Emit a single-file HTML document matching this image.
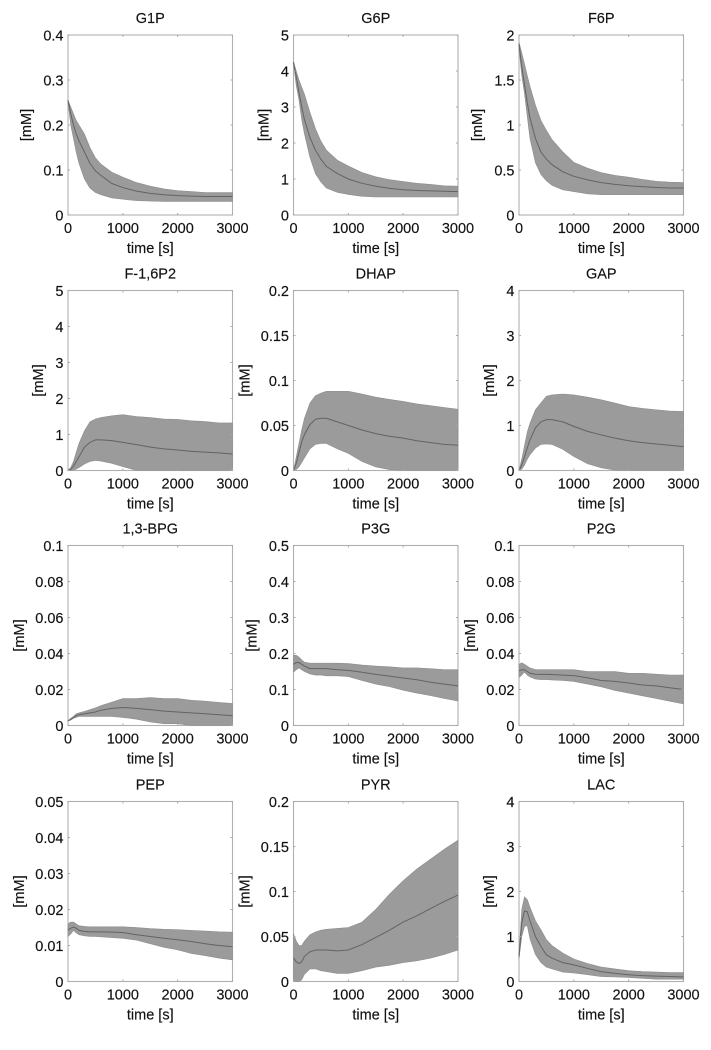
<!DOCTYPE html>
<html>
<head>
<meta charset="utf-8">
<title>Glycolytic metabolite time courses</title>
<style>
html,body{margin:0;padding:0;background:#fff;width:711px;height:1050px;overflow:hidden}
svg{display:block;filter:blur(0.35px)}
text{font-family:"Liberation Sans",sans-serif;font-size:14.5px;fill:#111;stroke:#111;stroke-width:0.15px}
</style>
</head>
<body>
<svg id="figure" width="711" height="1050" viewBox="0 0 711 1050" xmlns="http://www.w3.org/2000/svg"></svg>
<script>
const times = [0,50,100,150,200,300,400,500,600,800,1000,1250,1500,1750,2000,2250,2500,2750,3000];
const xTicks = [0,1000,2000,3000];

const g1pUpper = [.255,.24,.225,.21,.2,.18,.15,.127,.113,.095,.084,.072,.064,.058,.054,.052,.05,.05,.05];
const g1pMean = [.255,.225,.2,.18,.165,.14,.115,.098,.088,.07,.061,.053,.048,.045,.043,.042,.041,.041,.041];
const g1pLower = [.25,.2,.17,.14,.115,.08,.06,.05,.045,.038,.035,.032,.031,.03,.03,.03,.03,.03,.03];
const g1pTicks = ["0","0.1","0.2","0.3","0.4"];

const g6pUpper = [4.25,4.0,3.75,3.55,3.35,2.85,2.4,2.05,1.8,1.52,1.36,1.18,1.06,.98,.93,.88,.85,.81,.8];
const g6pMean = [4.25,3.85,3.4,3.0,2.65,2.15,1.8,1.55,1.35,1.15,1.0,.88,.8,.74,.7,.68,.67,.66,.65];
const g6pLower = [4.2,3.6,3.2,2.65,2.25,1.6,1.15,.92,.75,.63,.57,.52,.5,.5,.5,.5,.5,.5,.5];
const g6pTicks = ["0","1","2","3","4","5"];

const f6pUpper = [1.92,1.8,1.68,1.55,1.43,1.22,1.05,.94,.84,.7,.585,.52,.47,.44,.42,.395,.375,.365,.36];
const f6pMean = [1.9,1.65,1.45,1.25,1.08,.85,.7,.62,.56,.48,.43,.39,.36,.34,.325,.315,.305,.3,.3];
const f6pLower = [1.85,1.55,1.35,1.1,.85,.58,.45,.38,.33,.28,.26,.235,.225,.225,.225,.225,.225,.225,.225];
const f6pTicks = ["0","0.5","1","1.5","2"];

const fbpUpper = [0,.08,.25,.5,.75,1.1,1.35,1.43,1.47,1.52,1.55,1.5,1.47,1.43,1.42,1.38,1.36,1.32,1.32];
const fbpMean = [0,.04,.12,.25,.38,.65,.78,.85,.85,.83,.78,.72,.65,.6,.57,.53,.51,.49,.46];
const fbpLower = [0,0,.01,.04,.08,.18,.25,.28,.26,.2,.11,0,0,0,0,0,0,0,0];
const fbpTicks = ["0","1","2","3","4","5"];

const dhapUpper = [0,.015,.03,.045,.058,.075,.083,.086,.088,.088,.088,.085,.0815,.079,.0767,.074,.072,.07,.068];
const dhapMean = [0,.008,.02,.032,.04,.051,.057,.058,.058,.054,.05,.045,.041,.038,.036,.033,.031,.029,.028];
const dhapLower = [0,.001,.004,.009,.014,.024,.029,.03,.03,.024,.019,.01,.004,.001,0,0,0,0,0];
const dhapTicks = ["0","0.05","0.1","0.15","0.2"];

const gapUpper = [0,.25,.55,.85,1.05,1.35,1.5,1.65,1.68,1.7,1.68,1.63,1.57,1.5,1.42,1.38,1.35,1.32,1.31];
const gapMean = [0,.12,.3,.5,.68,.95,1.08,1.13,1.13,1.08,.98,.87,.79,.72,.66,.62,.59,.56,.53];
const gapLower = [0,.03,.12,.25,.35,.5,.58,.59,.58,.47,.31,.15,.06,.01,0,0,0,0,0];
const gapTicks = ["0","1","2","3","4"];

const bpgUpper = [.0025,.004,.005,.0065,.007,.0078,.0088,.0098,.011,.013,.015,.015,.0155,.015,.015,.014,.0135,.0128,.0122];
const bpgMean = [.0025,.0035,.0045,.0055,.006,.0065,.007,.0075,.0085,.0095,.01,.0095,.0088,.008,.0075,.007,.0065,.006,.0055];
const bpgLower = [.0025,.003,.004,.0045,.005,.005,.005,.005,.005,.005,.0045,.0035,.002,.001,.001,0,0,0,0];
const bpgTicks = ["0","0.02","0.04","0.06","0.08","0.1"];

const p3gUpper = [.195,.195,.19,.182,.176,.173,.173,.173,.173,.173,.172,.168,.165,.163,.16,.16,.158,.155,.155];
const p3gMean = [.17,.175,.175,.17,.165,.158,.158,.158,.158,.155,.153,.148,.142,.137,.132,.127,.12,.115,.11];
const p3gLower = [.148,.155,.16,.155,.15,.143,.14,.14,.138,.138,.136,.125,.115,.108,.098,.09,.083,.075,.068];
const p3gTicks = ["0","0.1","0.2","0.3","0.4","0.5"];

const p2gUpper = [.034,.0348,.034,.033,.032,.031,.031,.031,.031,.031,.031,.03,.03,.03,.029,.029,.0285,.028,.028];
const p2gMean = [.0303,.031,.031,.03,.029,.0285,.0284,.0284,.0283,.028,.0277,.0265,.025,.0245,.0236,.0225,.022,.021,.02];
const p2gLower = [.0266,.028,.0297,.028,.027,.0258,.0255,.0255,.0253,.025,.0245,.023,.0215,.0195,.018,.0165,.015,.0135,.012];
const p2gTicks = ["0","0.02","0.04","0.06","0.08","0.1"];

const pepUpper = [.016,.0165,.0165,.016,.0155,.0153,.0152,.0152,.0152,.0152,.0152,.015,.0147,.0145,.0144,.0142,.014,.0138,.0137];
const pepMean = [.0143,.0148,.0151,.0148,.0142,.0139,.0138,.0138,.0138,.0137,.0136,.013,.0125,.012,.0116,.0111,.0105,.01,.0097];
const pepLower = [.0125,.0132,.0142,.0135,.013,.0127,.0125,.0125,.0124,.0122,.012,.0115,.0105,.0095,.0088,.0078,.0072,.0065,.006];
const pepTicks = ["0","0.01","0.02","0.03","0.04","0.05"];

const pyrUpper = [.053,.045,.04,.04,.045,.052,.055,.057,.058,.059,.06,.066,.08,.097,.112,.125,.136,.147,.157];
const pyrMean = [.026,.022,.02,.022,.028,.033,.035,.035,.035,.034,.035,.041,.049,.057,.066,.073,.081,.089,.096];
const pyrLower = [0,0,0,.002,.008,.014,.014,.012,.011,.009,.009,.012,.016,.018,.021,.023,.026,.03,.035];
const pyrTicks = ["0","0.05","0.1","0.15","0.2"];

const lacUpper = [.6,1.6,1.88,1.82,1.65,1.35,1.15,.93,.8,.63,.5,.4,.32,.28,.24,.22,.21,.2,.2];
const lacMean = [.55,1.3,1.57,1.55,1.35,1.0,.78,.59,.52,.42,.37,.29,.22,.18,.15,.13,.12,.11,.1];
const lacLower = [.5,1.0,1.22,1.25,.95,.6,.42,.32,.28,.21,.19,.15,.11,.1,.09,.07,.05,.05,.05];
const lacTicks = ["0","1","2","3","4"];

const panels = [
  {title:"G1P", slug:"g1p", upper:g1pUpper, mean:g1pMean, lower:g1pLower, ticks:g1pTicks},
  {title:"G6P", slug:"g6p", upper:g6pUpper, mean:g6pMean, lower:g6pLower, ticks:g6pTicks},
  {title:"F6P", slug:"f6p", upper:f6pUpper, mean:f6pMean, lower:f6pLower, ticks:f6pTicks},
  {title:"F-1,6P2", slug:"f16p2", upper:fbpUpper, mean:fbpMean, lower:fbpLower, ticks:fbpTicks},
  {title:"DHAP", slug:"dhap", upper:dhapUpper, mean:dhapMean, lower:dhapLower, ticks:dhapTicks},
  {title:"GAP", slug:"gap", upper:gapUpper, mean:gapMean, lower:gapLower, ticks:gapTicks},
  {title:"1,3-BPG", slug:"13bpg", upper:bpgUpper, mean:bpgMean, lower:bpgLower, ticks:bpgTicks},
  {title:"P3G", slug:"p3g", upper:p3gUpper, mean:p3gMean, lower:p3gLower, ticks:p3gTicks},
  {title:"P2G", slug:"p2g", upper:p2gUpper, mean:p2gMean, lower:p2gLower, ticks:p2gTicks},
  {title:"PEP", slug:"pep", upper:pepUpper, mean:pepMean, lower:pepLower, ticks:pepTicks},
  {title:"PYR", slug:"pyr", upper:pyrUpper, mean:pyrMean, lower:pyrLower, ticks:pyrTicks},
  {title:"LAC", slug:"lac", upper:lacUpper, mean:lacMean, lower:lacLower, ticks:lacTicks}
];

const NS = "http://www.w3.org/2000/svg";
const figure = document.getElementById("figure");
const PLOT_W = 164.5;
const PLOT_H = 180;
const FIRST_LEFT = 68;
const COL_STEP = 225.5;
const ROW_TOPS = {0:35, 1:290.5, 2:545.5, 3:801.5};
const X_MAX = 3000;

function make(parent, tag, attrs, text) {
  const el = document.createElementNS(NS, tag);
  for (const k in attrs) el.setAttribute(k, attrs[k]);
  if (text !== undefined) el.textContent = text;
  parent.appendChild(el);
  return el;
}

panels.forEach(function (p, i) {
  const left = FIRST_LEFT + (i % 3) * COL_STEP;
  const top = ROW_TOPS[Math.floor(i / 3)];
  const bottom = top + PLOT_H;
  const right = left + PLOT_W;
  const yMax = parseFloat(p.ticks[p.ticks.length - 1]);
  const sx = function (t) { return left + (t / X_MAX) * PLOT_W; };
  const sy = function (v) { return bottom - (v / yMax) * PLOT_H; };
  const pts = function (arr) { return arr.map(function (v, k) { return sx(times[k]).toFixed(2) + "," + sy(v).toFixed(2); }); };

  const g = make(figure, "g", {});
  
  

  const frame = make(g, "rect", {
    x: left, y: top, width: PLOT_W, height: PLOT_H,
    fill: "none", stroke: "#b0b0b0", "stroke-width": "1.1"
  });
  
  

  const band = make(g, "polygon", {
    points: pts(p.upper).concat(pts(p.lower).reverse()).join(" "),
    fill: "#9b9b9b", stroke: "#8e8e8e", "stroke-width": "0.6"
  });
  
  

  const line = make(g, "polyline", {
    points: pts(p.mean).join(" "),
    fill: "none", stroke: "#636363", "stroke-width": "1"
  });
  
  

  const title = make(g, "text", {x: left + PLOT_W / 2, y: top - 12, "text-anchor": "middle"}, p.title);
  
  

  xTicks.forEach(function (t) {
    const x = sx(t);
    const mark = make(g, "path", {d: "M" + x + " " + bottom + "v-2M" + x + " " + top + "v2", stroke: "#a8a8a8", "stroke-width": "1", fill: "none"});
    
    
    const label = make(g, "text", {x: x, y: bottom + 18, "text-anchor": "middle"}, String(t));
    
    
  });

  p.ticks.forEach(function (t) {
    const y = sy(parseFloat(t));
    const mark = make(g, "path", {d: "M" + left + " " + y + "h2M" + right + " " + y + "h-2", stroke: "#a8a8a8", "stroke-width": "1", fill: "none"});
    
    
    const label = make(g, "text", {x: left - 4.5, y: y + 5.5, "text-anchor": "end"}, t);
    
    
  });

  const xTitle = make(g, "text", {x: left + PLOT_W / 2, y: bottom + 38, "text-anchor": "middle"}, "time [s]");
  
  

  const longest = Math.max.apply(null, p.ticks.map(function (t) { return t.length; }));
  const offset = longest >= 4 ? 49 : (longest === 3 ? 42 : 30);
  const yx = left - offset + 5;
  const yy = top + PLOT_H / 2;
  const yTitle = make(g, "text", {x: yx, y: yy, "text-anchor": "middle", transform: "rotate(-90 " + yx + " " + yy + ")"}, "[mM]");
  
  
});
</script>
</body>
</html>
